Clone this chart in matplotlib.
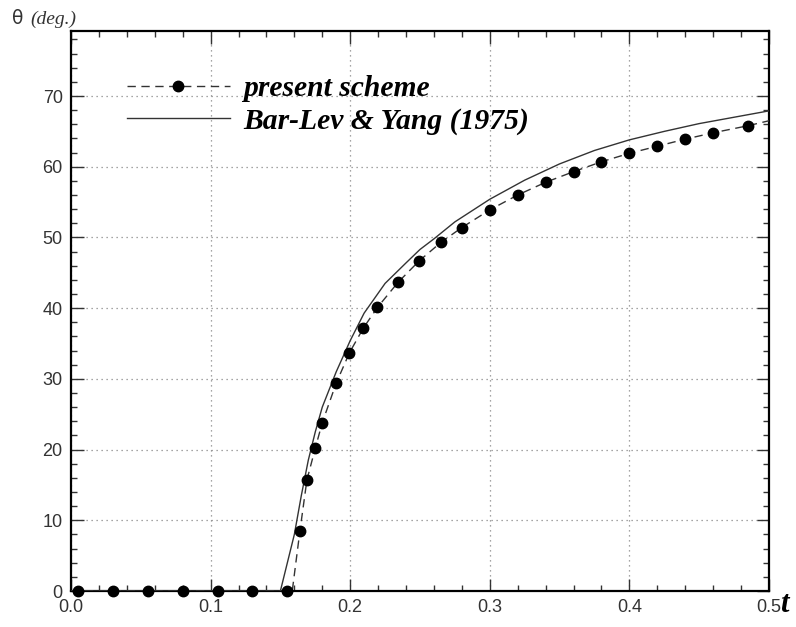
import matplotlib
matplotlib.use("Agg")
import matplotlib.pyplot as plt
import matplotlib.transforms as mtransforms
from matplotlib.ticker import MultipleLocator, FormatStrFormatter
from matplotlib.lines import Line2D

# present scheme: marker samples
t_scheme = [0.005, 0.030, 0.055, 0.080, 0.105, 0.130, 0.155,
            0.164, 0.169, 0.175, 0.180, 0.190, 0.1995, 0.2095, 0.2195,
            0.2345, 0.2495, 0.265, 0.280, 0.300, 0.320, 0.340, 0.360,
            0.380, 0.400, 0.420, 0.440, 0.460, 0.485]
theta_scheme = [0.0, 0.0, 0.0, 0.0, 0.0, 0.0, 0.0,
                8.5, 15.7, 20.2, 23.8, 29.4, 33.7, 37.2, 40.1,
                43.7, 46.7, 49.3, 51.4, 53.9, 56.0, 57.8, 59.3,
                60.7, 61.9, 62.9, 63.9, 64.8, 65.8]

# present scheme: continuous curve
t_scheme_line = [0.0, 0.1585, 0.164, 0.169, 0.175, 0.180, 0.190, 0.1995,
                 0.2095, 0.2195, 0.2345, 0.2495, 0.265, 0.280, 0.300, 0.320,
                 0.340, 0.360, 0.380, 0.400, 0.420, 0.440, 0.460, 0.485, 0.500]
theta_scheme_line = [0.0, 0.0, 8.5, 15.7, 20.2, 23.8, 29.4, 33.7,
                     37.2, 40.1, 43.7, 46.7, 49.3, 51.4, 53.9, 56.0,
                     57.8, 59.3, 60.7, 61.9, 62.9, 63.9, 64.8, 65.8, 66.5]

# Bar-Lev & Yang (1975)
t_ref = [0.0, 0.150, 0.160, 0.165, 0.170, 0.175, 0.180, 0.190, 0.200,
         0.210, 0.225, 0.240, 0.250, 0.260, 0.275, 0.300, 0.325, 0.350,
         0.375, 0.400, 0.425, 0.450, 0.475, 0.500]
theta_ref = [0.0, 0.0, 8.0, 13.5, 18.5, 22.5, 26.0, 31.0, 35.4,
             39.3, 43.5, 46.4, 48.3, 49.8, 52.2, 55.4, 58.1, 60.4,
             62.3, 63.8, 65.0, 66.1, 67.0, 67.9]

legend_labels = ['present scheme', 'Bar-Lev & Yang (1975)']

x_major = 0.1
x_minor = 0.02
y_major = 10
y_minor = 2

fig = plt.figure(figsize=(7.96, 6.27), dpi=100)
ax = fig.add_axes([0.0892, 0.0574, 0.8768, 0.8932])

ax.plot(t_ref, theta_ref, '-', color='#333333', lw=1.0, zorder=3)
ax.plot(t_scheme_line, theta_scheme_line, '--', color='#333333', lw=1.0,
        dashes=(6, 4), zorder=3)
ax.plot(t_scheme, theta_scheme, 'o', color='black', ms=7.5, zorder=4,
        clip_on=False)

ax.set_xlim(0, 0.5)
ax.set_ylim(0, 79.2)

ax.xaxis.set_major_locator(MultipleLocator(x_major))
ax.xaxis.set_minor_locator(MultipleLocator(x_minor))
ax.yaxis.set_major_locator(MultipleLocator(y_major))
ax.yaxis.set_minor_locator(MultipleLocator(y_minor))
ax.xaxis.set_major_formatter(FormatStrFormatter('%.1f'))
ax.yaxis.set_major_formatter(FormatStrFormatter('%d'))

ax.tick_params(which='both', direction='in', top=True, right=True,
               color='#333333')
ax.tick_params(which='major', length=9, width=1.0, labelsize=13,
               labelcolor='#333333', pad=6)
ax.tick_params(which='minor', length=4.5, width=1.0)
for lab in ax.get_xticklabels() + ax.get_yticklabels():
    lab.set_family('Liberation Sans')

# nudge the last x label left to leave room for the axis letter
fig.canvas.draw()
xlabels = ax.get_xticklabels()
xlabels[-1].set_transform(xlabels[-1].get_transform() +
                          mtransforms.ScaledTranslation(-4 / 100, 0,
                                                        fig.dpi_scale_trans))

for sp in ax.spines.values():
    sp.set_linewidth(1.6)
    sp.set_color('black')

ax.grid(True, which='major', linestyle=(0, (1, 3)), color='#888888', lw=0.9)
ax.set_axisbelow(True)

# legend
h_scheme = Line2D([], [], color='#333333', lw=1.0, linestyle='--',
                  dashes=(6, 4), marker='o', ms=7.5, mfc='black', mec='black')
h_ref = Line2D([], [], color='#333333', lw=1.0)
ax.legend([h_scheme, h_ref], legend_labels,
          loc='upper left', bbox_to_anchor=(0.080, 0.921),
          frameon=False, handlelength=3.48, handletextpad=0.44,
          labelspacing=0.19, borderpad=0, borderaxespad=0,
          prop={'family': 'Liberation Serif', 'weight': 'bold',
                'style': 'italic', 'size': 21.3})

# axis titles
fig.text(0.015, 0.962, 'θ', fontsize=13.5, family='DejaVu Sans',
         color='#333333', va='baseline')
fig.text(0.038, 0.962, '(deg.)', fontsize=14, family='Liberation Serif',
         style='italic', color='#333333', va='baseline')
fig.text(0.980, 0.024, 't', fontsize=22, family='Liberation Serif',
         style='italic', weight='bold', color='black', va='baseline')

fig.savefig('out.png', dpi=100)
